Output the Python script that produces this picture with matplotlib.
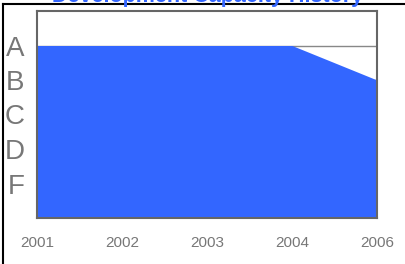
import matplotlib
matplotlib.use("Agg")
import matplotlib.pyplot as plt
from matplotlib.lines import Line2D
import numpy as np

# data
years = ['2001', '2002', '2003', '2004', '2006']
capacity = [5, 5, 5, 5, 4]
grade_labels = ['F', 'D', 'C', 'B', 'A']
grade_values = [1, 2, 3, 4, 5]

plt.rcParams['font.family'] = ['Liberation Sans', 'DejaVu Sans']

fig = plt.figure(figsize=(4.06, 2.64), dpi=100)
ax = fig.add_axes([37/406, 1 - 218/264, 340/406, 207/264])

x = np.arange(len(years))
ax.fill_between(x, 0, capacity, color='#3366ff', linewidth=0, zorder=2)
ax.set_xlim(x[0], x[-1])
ax.set_ylim(0, 6)

ax.set_yticks(grade_values)
ax.set_yticklabels(grade_labels, fontsize=20, color='#777777')
ax.set_xticks(x)
ax.set_xticklabels(years, fontsize=11, color='#777777')
ax.tick_params(length=0)
ax.tick_params(axis='y', pad=9)
ax.tick_params(axis='x', pad=13)
ax.grid(axis='y', color='#888888', linewidth=1, zorder=1)
ax.set_axisbelow(True)
for s in ax.spines.values():
    s.set_color('#666666')
    s.set_linewidth(1.5)
    s.set_zorder(3)

# outer frame lines and title
fig.add_artist(Line2D([3/406, 1], [1 - 3.5/264, 1 - 3.5/264], color='black', linewidth=1.5))
fig.add_artist(Line2D([3.5/406, 3.5/406], [0, 1 - 3.5/264], color='black', linewidth=1.5))
fig.text(208/406, 1 - 2/264, 'Development Capacity History', ha='center', va='baseline',
         fontsize=15.5, fontweight='bold', color='#3366ff')

fig.savefig('out.png', dpi=100)
